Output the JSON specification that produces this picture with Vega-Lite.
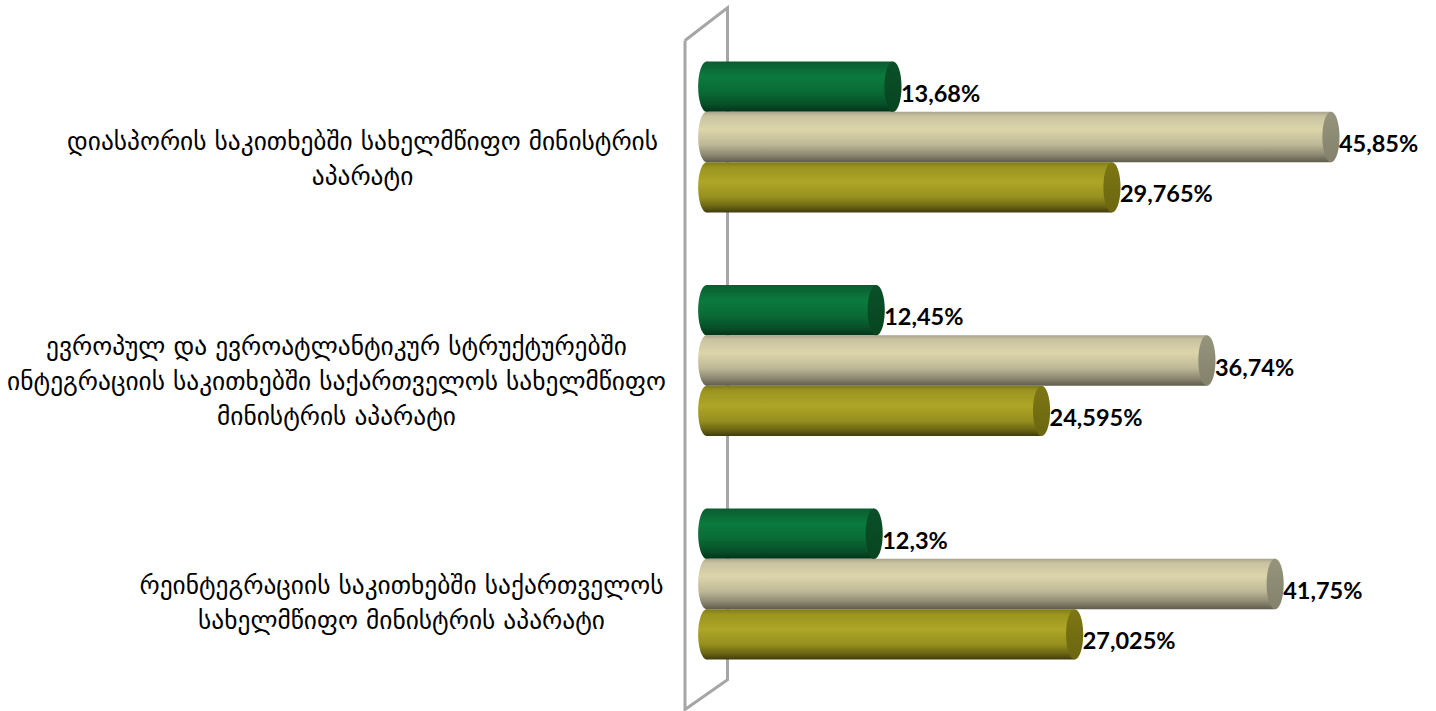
{
"$schema":"https://vega.github.io/schema/vega-lite/v6.json",
"autosize":"none",
"padding":{"left":680,"top":0,"right":0,"bottom":0},
"width":756,
"height":711,
"background":"white",
"config":{"view":{"stroke":null}},
"datasets":{
"bars":[
{"org":"დიასპორის საკითხებში სახელმწიფო მინისტრის|აპარატი","series":"სერია 1","value":13.68,"label":"13,68%"},
{"org":"დიასპორის საკითხებში სახელმწიფო მინისტრის|აპარატი","series":"სერია 2","value":45.85,"label":"45,85%"},
{"org":"დიასპორის საკითხებში სახელმწიფო მინისტრის|აპარატი","series":"სერია 3","value":29.765,"label":"29,765%"},
{"org":"ევროპულ და ევროატლანტიკურ სტრუქტურებში|ინტეგრაციის საკითხებში საქართველოს სახელმწიფო|მინისტრის აპარატი","series":"სერია 1","value":12.45,"label":"12,45%"},
{"org":"ევროპულ და ევროატლანტიკურ სტრუქტურებში|ინტეგრაციის საკითხებში საქართველოს სახელმწიფო|მინისტრის აპარატი","series":"სერია 2","value":36.74,"label":"36,74%"},
{"org":"ევროპულ და ევროატლანტიკურ სტრუქტურებში|ინტეგრაციის საკითხებში საქართველოს სახელმწიფო|მინისტრის აპარატი","series":"სერია 3","value":24.595,"label":"24,595%"},
{"org":"რეინტეგრაციის საკითხებში საქართველოს|სახელმწიფო მინისტრის აპარატი","series":"სერია 1","value":12.3,"label":"12,3%"},
{"org":"რეინტეგრაციის საკითხებში საქართველოს|სახელმწიფო მინისტრის აპარატი","series":"სერია 2","value":41.75,"label":"41,75%"},
{"org":"რეინტეგრაციის საკითხებში საქართველოს|სახელმწიფო მინისტრის აპარატი","series":"სერია 3","value":27.025,"label":"27,025%"}
],
"wall":[
{"depth":-1.594,"rise":94.3,"ord":1},
{"depth":1.528,"rise":98.9,"ord":2},
{"depth":1.528,"rise":4.4,"ord":3},
{"depth":-1.594,"rise":0.2,"ord":4},
{"depth":-1.594,"rise":94.3,"ord":5}
]
},
"data":{"name":"bars"},
"resolve":{"scale":{"y":"independent"}},
"encoding":{},
"layer":[
{
"data":{"name":"wall"},
"mark":{"type":"line","stroke":"#a6a6a6","strokeWidth":3,"clip":false,"strokeJoin":"miter"},
"encoding":{
"x":{"field":"depth","type":"quantitative","scale":{"domain":[-1.961,53.566],"nice":false,"zero":false},"axis":null},
"y":{"field":"rise","type":"quantitative","scale":{"domain":[0,100],"nice":false,"zero":false},"axis":null},
"order":{"field":"ord","type":"quantitative"}
}
},
{
"encoding":{
"y":{"field":"org","type":"nominal","sort":null,"title":null,
"scale":{"paddingInner":0,"paddingOuter":0.0906,"align":0.6235},
"axis":{"domain":false,"ticks":false,"title":null,"labelExpr":"split(datum.label,'|')","labelAlign":"center","labelBaseline":"middle","labelFont":"DejaVu Sans","labelFontSize":25.4,"labelLineHeight":35,"labelColor":"#000000","labelLimit":0,"labelOverlap":false,"labelBound":false,"labelFlush":false,"labelAngle":0,
"labelOffset":{"condition":[{"test":"indexof(datum.label,'დიასპორის')==0","value":5},{"test":"indexof(datum.label,'ევროპულ')==0","value":-13.5}],"value":2},
"labelPadding":{"condition":[{"test":"indexof(datum.label,'დიასპორის')==0","value":318},{"test":"indexof(datum.label,'ევროპულ')==0","value":344}],"value":279}}},
"yOffset":{"field":"series","type":"nominal","sort":null,"scale":{"paddingInner":0,"paddingOuter":0.72}},
"x":{"field":"value","type":"quantitative","scale":{"domain":[-1.961,53.566],"nice":false,"zero":false},"axis":null}
},
"layer":[
{
"mark":{"type":"point","filled":true,"opacity":1,"shape":"M0,-1 A0.34,1 0 1 1 0,1 A0.34,1 0 1 1 0,-1 Z","size":2530,"clip":false},
"encoding":{
"x":{"datum":0,"type":"quantitative"},
"color":{"condition":[
{"test":"datum.series=='სერია 1'","value":{"gradient":"linear","x1":0,"y1":0,"x2":0,"y2":1,"stops":[{"offset":0,"color":"#0a5c30"},{"offset":0.3,"color":"#0b7a3e"},{"offset":0.6,"color":"#0a6b36"},{"offset":0.85,"color":"#075028"},{"offset":1,"color":"#033319"}]}},
{"test":"datum.series=='სერია 2'","value":{"gradient":"linear","x1":0,"y1":0,"x2":0,"y2":1,"stops":[{"offset":0,"color":"#a8a48c"},{"offset":0.08,"color":"#c8c2a0"},{"offset":0.35,"color":"#dcd5ab"},{"offset":0.65,"color":"#bdb896"},{"offset":0.85,"color":"#8d8973"},{"offset":1,"color":"#5f5c4c"}]}}
],"value":{"gradient":"linear","x1":0,"y1":0,"x2":0,"y2":1,"stops":[{"offset":0,"color":"#7f7a1a"},{"offset":0.1,"color":"#9a9420"},{"offset":0.4,"color":"#aea626"},{"offset":0.7,"color":"#958f1e"},{"offset":0.88,"color":"#6a6514"},{"offset":1,"color":"#403c0c"}]}}
}
},
{
"mark":{"type":"bar","size":50.3,"clip":false},
"encoding":{
"color":{"condition":[
{"test":"datum.series=='სერია 1'","value":{"gradient":"linear","x1":0,"y1":0,"x2":0,"y2":1,"stops":[{"offset":0,"color":"#0a5c30"},{"offset":0.3,"color":"#0b7a3e"},{"offset":0.6,"color":"#0a6b36"},{"offset":0.85,"color":"#075028"},{"offset":1,"color":"#033319"}]}},
{"test":"datum.series=='სერია 2'","value":{"gradient":"linear","x1":0,"y1":0,"x2":0,"y2":1,"stops":[{"offset":0,"color":"#a8a48c"},{"offset":0.08,"color":"#c8c2a0"},{"offset":0.35,"color":"#dcd5ab"},{"offset":0.65,"color":"#bdb896"},{"offset":0.85,"color":"#8d8973"},{"offset":1,"color":"#5f5c4c"}]}}
],"value":{"gradient":"linear","x1":0,"y1":0,"x2":0,"y2":1,"stops":[{"offset":0,"color":"#7f7a1a"},{"offset":0.1,"color":"#9a9420"},{"offset":0.4,"color":"#aea626"},{"offset":0.7,"color":"#958f1e"},{"offset":0.88,"color":"#6a6514"},{"offset":1,"color":"#403c0c"}]}}
}
},
{
"mark":{"type":"point","filled":true,"opacity":1,"shape":"M0,-1 A0.34,1 0 1 1 0,1 A0.34,1 0 1 1 0,-1 Z","size":2530,"clip":false},
"encoding":{
"color":{"condition":[
{"test":"datum.series=='სერია 1'","value":{"gradient":"linear","x1":0,"y1":0,"x2":0,"y2":1,"stops":[{"offset":0,"color":"#0a5029"},{"offset":1,"color":"#07451f"}]}},
{"test":"datum.series=='სერია 2'","value":{"gradient":"linear","x1":0,"y1":0,"x2":0,"y2":1,"stops":[{"offset":0,"color":"#97947c"},{"offset":1,"color":"#84816c"}]}}
],"value":{"gradient":"linear","x1":0,"y1":0,"x2":0,"y2":1,"stops":[{"offset":0,"color":"#7c7614"},{"offset":1,"color":"#6c6710"}]}}
}
},
{
"mark":{"type":"text","align":"left","baseline":"middle","dx":8,"dy":8,"font":"Lato","fontSize":23.5,"fontWeight":"bold","color":"#000000","clip":false},
"encoding":{"text":{"field":"label","type":"nominal"}}
}
]
}
]
}
